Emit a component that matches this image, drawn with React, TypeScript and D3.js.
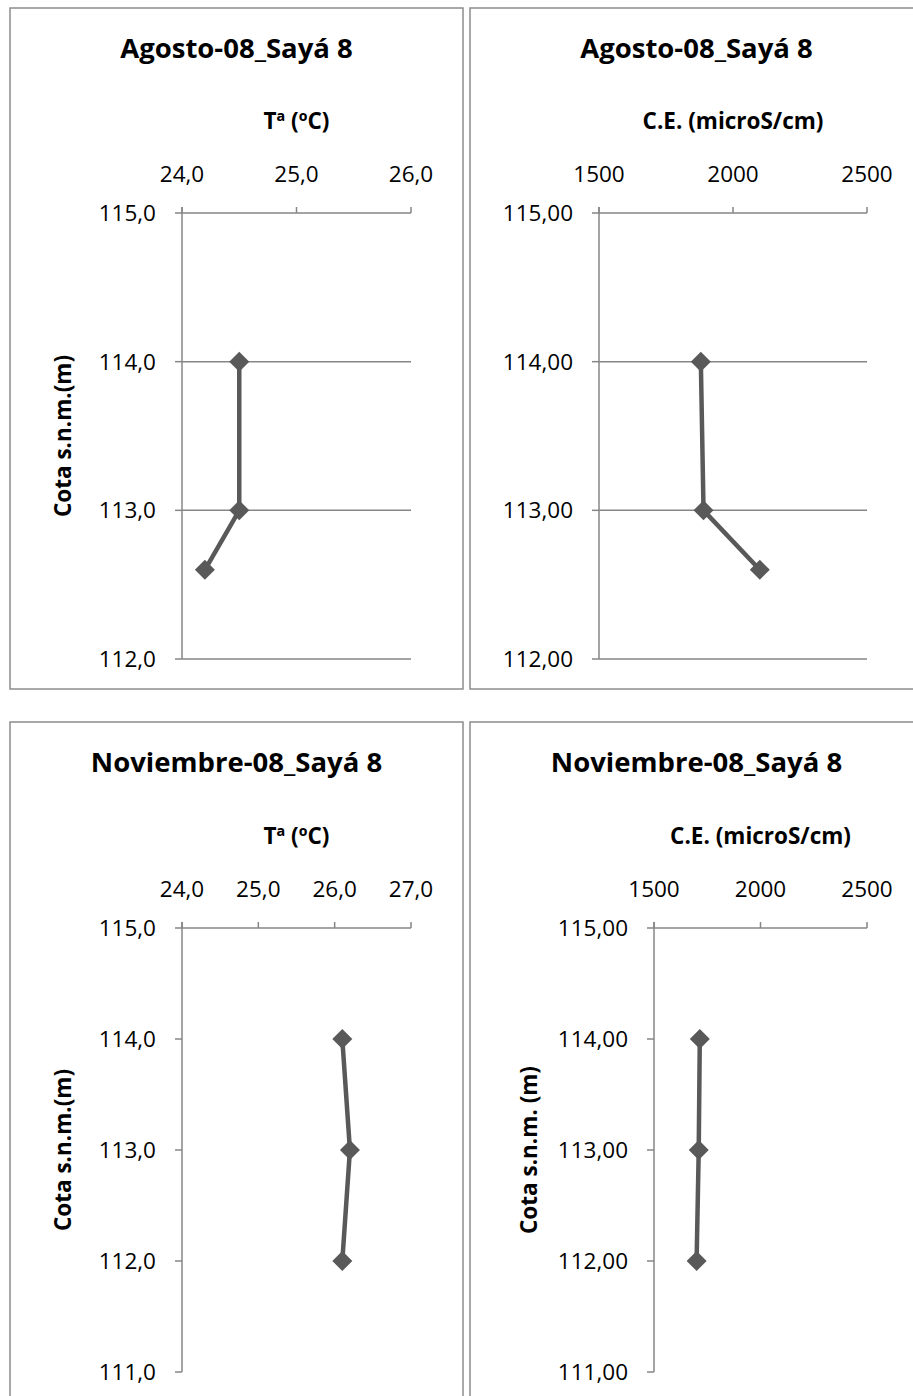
import React from "react";
import * as d3 from "d3";

// ---- data ----
const depthAug = [114, 113, 112.6];
const tempAug = [24.5, 24.5, 24.2];
const ceAug = [1880, 1890, 2100];
const depthNov = [114, 113, 112];
const tempNov = [26.1, 26.2, 26.1];
const ceNov = [1715, 1710, 1700];

const tempTicksAug = [24, 25, 26];
const tempTicksNov = [24, 25, 26, 27];
const ceTicks = [1500, 2000, 2500];
const depthTicksAug = [115, 114, 113, 112];
const depthTicksNov = [115, 114, 113, 112, 111];

const titleAug = "Agosto-08_Sayá 8";
const titleNov = "Noviembre-08_Sayá 8";
const tempTitle = "Tª (ºC)";
const ceTitle = "C.E. (microS/cm)";

const locale = d3.formatLocale({ decimal: ",", thousands: ".", grouping: [3], currency: ["", "€"] });
const f1 = locale.format(".1f");
const f2 = locale.format(".2f");
const fInt = locale.format("d");

const FONT = "'Open Sans', 'DejaVu Sans', sans-serif";
const AXIS = "#868686";
const SERIES = "#595959";

type PanelProps = {
  box: { x: number; y: number; w: number; h: number };
  plot: { x0: number; x1: number; y0: number; y1: number };
  title: string;
  xTitle: string;
  xTicks: number[];
  xFmt: (v: number) => string;
  yTicks: number[];
  yFmt: (v: number) => string;
  xs: number[];
  ys: number[];
  grid: boolean;
  yTitle?: string;
  yTitleX?: number;
};

function Panel(p: PanelProps) {
  const xScale = d3.scaleLinear().domain([p.xTicks[0], p.xTicks[p.xTicks.length - 1]]).range([p.plot.x0, p.plot.x1]);
  const yScale = d3.scaleLinear().domain([p.yTicks[0], p.yTicks[p.yTicks.length - 1]]).range([p.plot.y0, p.plot.y1]);
  const pts = p.xs.map((v, i) => [v, p.ys[i]] as [number, number]);
  const line = d3.line<[number, number]>().x((d) => xScale(d[0])).y((d) => yScale(d[1]));
  const sym = d3.symbol().type(d3.symbolSquare).size(200)();
  const cx = (p.plot.x0 + p.plot.x1) / 2;
  const cy = (p.plot.y0 + p.plot.y1) / 2;
  return (
    <g>
      <rect x={p.box.x} y={p.box.y} width={p.box.w} height={p.box.h} fill="#fff" stroke="#8c8c8c" strokeWidth={1.5} />
      <text x={p.box.x + p.box.w / 2} y={p.box.y + 50} textAnchor="middle" fontFamily={FONT} fontWeight="bold" fontSize={27.5} fill="#000">
        {p.title}
      </text>
      <text x={cx} y={p.plot.y0 - 84} textAnchor="middle" fontFamily={FONT} fontWeight="bold" fontSize={22.5} fill="#000">
        {p.xTitle}
      </text>
      {p.yTitle && (
        <text
          transform={`translate(${p.yTitleX},${cy}) rotate(-90)`}
          textAnchor="middle"
          fontFamily={FONT}
          fontWeight="bold"
          fontSize={22.5}
          fill="#000"
        >
          {p.yTitle}
        </text>
      )}
      {/* gridlines */}
      {p.grid &&
        p.yTicks.slice(1).map((t) => (
          <line key={"g" + t} x1={p.plot.x0} x2={p.plot.x1} y1={yScale(t)} y2={yScale(t)} stroke={AXIS} strokeWidth={1.5} />
        ))}
      {/* x axis at top */}
      <line x1={p.plot.x0} x2={p.plot.x1} y1={p.plot.y0} y2={p.plot.y0} stroke={AXIS} strokeWidth={1.5} />
      {p.xTicks.map((t) => (
        <g key={"x" + t}>
          <line x1={xScale(t)} x2={xScale(t)} y1={p.plot.y0} y2={p.plot.y0 - 6} stroke={AXIS} strokeWidth={1.5} />
          <text x={xScale(t)} y={p.plot.y0 - 31} textAnchor="middle" fontFamily={FONT} fontSize={22.5} fill="#000">
            {p.xFmt(t)}
          </text>
        </g>
      ))}
      {/* y axis */}
      <line x1={p.plot.x0} x2={p.plot.x0} y1={p.plot.y0 - 6} y2={p.plot.y1} stroke={AXIS} strokeWidth={1.5} />
      {p.yTicks.map((t) => (
        <g key={"y" + t}>
          <line x1={p.plot.x0 - 7} x2={p.plot.x0} y1={yScale(t)} y2={yScale(t)} stroke={AXIS} strokeWidth={1.5} />
          <text x={p.plot.x0 - 26} y={yScale(t)} dy="0.36em" textAnchor="end" fontFamily={FONT} fontSize={22.5} fill="#000">
            {p.yFmt(t)}
          </text>
        </g>
      ))}
      {/* series */}
      <path d={line(pts) || ""} fill="none" stroke={SERIES} strokeWidth={4.5} strokeLinejoin="round" />
      {pts.map((d, i) => (
        <path key={"m" + i} d={sym || ""} transform={`translate(${xScale(d[0])},${yScale(d[1])}) rotate(45)`} fill={SERIES} />
      ))}
    </g>
  );
}

export default function App() {
  return (
    <svg width={913} height={1396} style={{ position: "absolute", left: 0, top: 0, background: "#fff" }}>
      <rect x={0} y={0} width={913} height={1396} fill="#fff" />
      <Panel
        box={{ x: 10, y: 8, w: 453, h: 681 }}
        plot={{ x0: 182, x1: 411, y0: 213, y1: 659 }}
        title={titleAug}
        xTitle={tempTitle}
        xTicks={tempTicksAug}
        xFmt={f1}
        yTicks={depthTicksAug}
        yFmt={f1}
        xs={tempAug}
        ys={depthAug}
        grid={true}
        yTitle="Cota s.n.m.(m)"
        yTitleX={71}
      />
      <Panel
        box={{ x: 470, y: 8, w: 453, h: 681 }}
        plot={{ x0: 599, x1: 867, y0: 213, y1: 659 }}
        title={titleAug}
        xTitle={ceTitle}
        xTicks={ceTicks}
        xFmt={fInt}
        yTicks={depthTicksAug}
        yFmt={f2}
        xs={ceAug}
        ys={depthAug}
        grid={true}
      />
      <Panel
        box={{ x: 10, y: 722, w: 453, h: 681 }}
        plot={{ x0: 182, x1: 411, y0: 928, y1: 1372 }}
        title={titleNov}
        xTitle={tempTitle}
        xTicks={tempTicksNov}
        xFmt={f1}
        yTicks={depthTicksNov}
        yFmt={f1}
        xs={tempNov}
        ys={depthNov}
        grid={false}
        yTitle="Cota s.n.m.(m)"
        yTitleX={71}
      />
      <Panel
        box={{ x: 470, y: 722, w: 453, h: 681 }}
        plot={{ x0: 654, x1: 867, y0: 928, y1: 1372 }}
        title={titleNov}
        xTitle={ceTitle}
        xTicks={ceTicks}
        xFmt={fInt}
        yTicks={depthTicksNov}
        yFmt={f2}
        xs={ceNov}
        ys={depthNov}
        grid={false}
        yTitle="Cota s.n.m. (m)"
        yTitleX={537}
      />
    </svg>
  );
}
